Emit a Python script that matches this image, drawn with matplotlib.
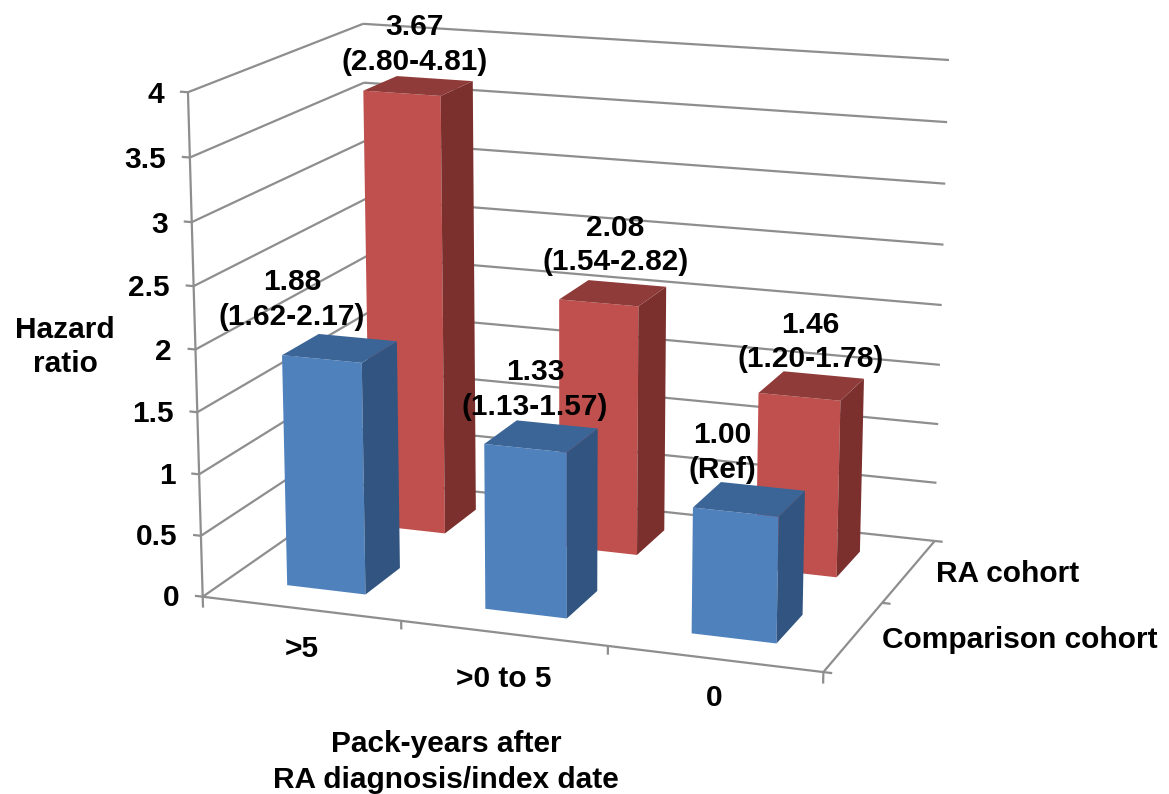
import numpy as np
import matplotlib
matplotlib.use("Agg")
import matplotlib.pyplot as plt
from mpl_toolkits.mplot3d import Axes3D  # noqa

categories = [">5", ">0 to 5", "0"]
cohorts = ["Comparison cohort", "RA cohort"]
comparison_hr = [1.88, 1.33, 1.00]
ra_hr = [3.67, 2.08, 1.46]
comparison_text = ["1.88\n(1.62-2.17)", "1.33\n(1.13-1.57)", "1.00\n(Ref)"]
ra_text = ["3.67\n(2.80-4.81)", "2.08\n(1.54-2.82)", "1.46\n(1.20-1.78)"]
z_ticks = [0, 0.5, 1, 1.5, 2, 2.5, 3, 3.5, 4]
z_tick_labels = ["0", "0.5", "1", "1.5", "2", "2.5", "3", "3.5", "4"]

W, H = 1169, 794
plt.rcParams["font.family"] = ["Liberation Sans", "DejaVu Sans"]
plt.rcParams["font.weight"] = "bold"
FS = 21.5

# camera fitted to the box corners (world -> pixel)
world = np.array([(0,0,0),(3,0,0),(3,2,0),(0,2,0),(0,0,4),(0,2,4),(3,2,4)], float)
pixel = np.array([(203,597),(823,672),(935,541),(370,480),(188,92),(363,24),(949,60)], float)
norm = np.column_stack([pixel[:,0]/W*2-1, 1-pixel[:,1]/H*2])
A = []
for (X,Y,Z),(u,v) in zip(world,norm):
    A.append([X,Y,Z,1,0,0,0,0,-u*X,-u*Y,-u*Z,-u])
    A.append([0,0,0,0,X,Y,Z,1,-v*X,-v*Y,-v*Z,-v])
P = np.linalg.svd(np.array(A))[2][-1].reshape(3,4)
if P[2,3] < 0:
    P = -P
c = 0.1*P[2,3]
M = np.array([P[0], P[1], [0, -c, 0, -c], P[2]])

fig = plt.figure(figsize=(W/100, H/100), dpi=100, facecolor="white")
ax = fig.add_axes([0,0,1,1], projection="3d", computed_zorder=False)
ax.set_proj_type("ortho")
ax.get_proj = lambda: M
ax.apply_aspect = lambda position=None: None
ax.set_axis_off()
ax.set_xticks([]); ax.set_yticks([]); ax.set_zticks([])
for a in (ax.xaxis, ax.yaxis, ax.zaxis):
    a.set_visible(False)

GRID = "#8e8e8e"
def seg(a, b):
    ax.plot([a[0],b[0]],[a[1],b[1]],[a[2],b[2]], color=GRID, lw=1.6, zorder=1, solid_capstyle="butt")

def label(x, y, z, s, **kw):
    v = M @ np.array([x, y, z, 1.0])
    ax.text2D(v[0]/v[3], v[1]/v[3], s, transform=ax.transData, fontsize=FS, fontweight="bold", zorder=20, **kw)

for z in z_ticks:
    seg((0,0,z),(0,2,z))
    seg((0,2,z),(3,2,z))
    seg((-0.04,0,z),(0,0,z))
seg((0,0,0),(0,0,4))
seg((0,0,0),(3,0,0))
seg((3,0,0),(3,2,0))
for i in range(4):
    seg((i,0,-0.09 if i in (0,3) else -0.07),(i,0,0))
for j in range(3):
    seg((3,j,0),(3.04,j,0))

BW, BD = 0.40, 0.42
NONE = (0,0,0,0)
def bar(i, j, v, front, side, top, zo):
    cols = [NONE, top, front, NONE, NONE, side]
    ax.bar3d([i+0.5-BW/2], [j+0.5-BD/2], [0], [BW], [BD], [v], color=cols,
             shade=False, linewidth=0, zorder=zo)

for i, v in enumerate(ra_hr):
    bar(i, 1, v, "#C0504D", "#7B302E", "#8F3B39", 3+i)
for i, v in enumerate(comparison_hr):
    bar(i, 0, v, "#4F81BD", "#315580", "#3B6597", 7+i)

dx_blue = [-0.24, -0.03, -0.13]
dx_red = [-0.02, 0.01, -0.01]
dz_blue = [0.355, 0.37, 0.345]
dz_red = [0.34, 0.40, 0.36]
cat_dz = [-0.33, -0.365, -0.31]
for i in range(3):
    label(i+0.5+dx_blue[i], 0.5, comparison_hr[i]+dz_blue[i], comparison_text[i], ha="center", va="center", linespacing=1.31)
    label(i+0.5+dx_red[i], 1.5, ra_hr[i]+dz_red[i], ra_text[i], ha="center", va="center", linespacing=1.31)
    label(i+0.5, 0, cat_dz[i], categories[i], ha="center", va="center")
for z, s in zip(z_ticks, z_tick_labels):
    label(-0.12, 0, z-0.035, s, ha="right", va="center")
for j, s in enumerate(cohorts):
    label(3.13, j+0.5, 0, s, ha="left", va="center")

fig.text(65/W, 1-347/H, "Hazard\nratio", ha="center", va="center", fontsize=FS, fontweight="bold", linespacing=1.25)
fig.text(446/W, 1-762/H, "Pack-years after\nRA diagnosis/index date", ha="center", va="center",
         fontsize=FS, fontweight="bold", linespacing=1.33)

ax.viewLim.intervalx = (-1, 1)
ax.viewLim.intervaly = (-1, 1)
fig.savefig("out.png", dpi=100)
